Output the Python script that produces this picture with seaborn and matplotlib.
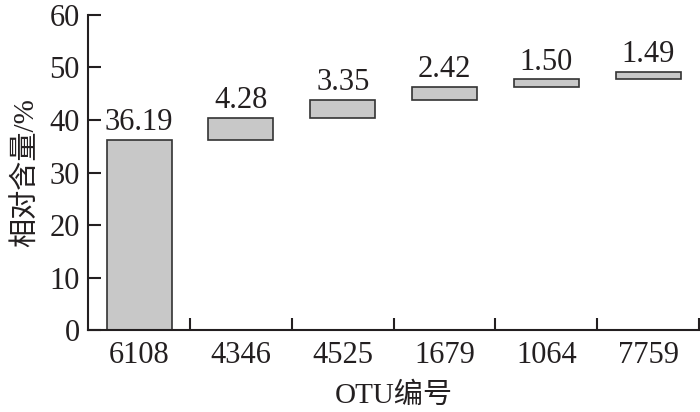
import seaborn as sns
import pandas as pd
import matplotlib.pyplot as plt
from matplotlib.ticker import FixedLocator

# OTU 编号与相对含量
otu = ["6108", "4346", "4525", "1679", "1064", "7759"]
abundance = [36.19, 4.28, 3.35, 2.42, 1.50, 1.49]

df = pd.DataFrame({"otu": otu, "value": abundance})
# 瀑布图：每根柱子从前面累计值开始
df["start"] = df["value"].cumsum() - df["value"]

sns.set_style("white")
plt.rcParams["font.family"] = ["Liberation Serif", "Noto Sans CJK SC"]

fig, ax = plt.subplots(figsize=(7, 4.12), dpi=100)
fig.subplots_adjust(left=0.126, right=0.9986, bottom=0.199, top=0.9636)

sns.barplot(
    x="otu", y="value", data=df, ax=ax,
    bottom=df["start"].values, width=0.64,
    color="#c8c8c8", edgecolor="#333333", linewidth=1.2, saturation=1,
)

ax.bar_label(ax.containers[0], labels=[f"{v:.2f}" for v in abundance],
             padding=2, fontsize=22, color="#231f20")

ax.set_ylim(0, 60)
ax.set_xlim(-0.5, 5.5)
ax.set_yticks(range(0, 61, 10))
ax.xaxis.set_minor_locator(FixedLocator([i + 0.5 for i in range(len(otu))]))

ax.tick_params(axis="y", direction="in", length=9, width=1.5, labelsize=22,
               pad=6, colors="#231f20", left=True)
ax.tick_params(axis="x", which="major", length=0, labelsize=22, pad=8,
               colors="#231f20")
ax.tick_params(axis="x", which="minor", direction="in", length=9, width=1.5,
               bottom=True, color="#231f20")

sns.despine(ax=ax)
for s in ["left", "bottom"]:
    ax.spines[s].set_linewidth(1.5)
    ax.spines[s].set_color("#231f20")

ax.set_xlabel("OTU编号", fontsize=21, color="#231f20", labelpad=9)
ax.set_ylabel("相对含量/%", fontsize=21, color="#231f20", labelpad=7)

plt.savefig("out.png", dpi=100)
